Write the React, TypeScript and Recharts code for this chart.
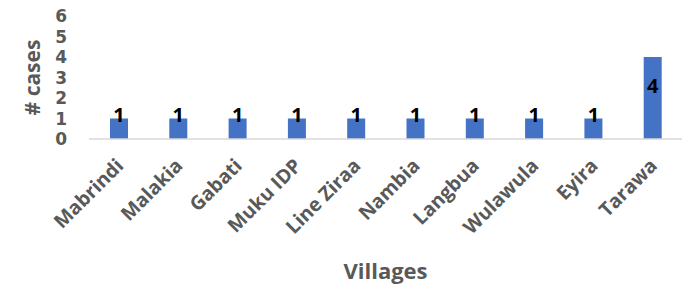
import React from 'react';
import { BarChart, Bar, XAxis, YAxis, LabelList, Label } from 'recharts';

const villages = ['Mabrindi', 'Malakia', 'Gabati', 'Muku IDP', 'Line Ziraa', 'Nambia', 'Langbua', 'Wulawula', 'Eyira', 'Tarawa'];
const cases = [1, 1, 1, 1, 1, 1, 1, 1, 1, 4];
const yTicks = [0, 1, 2, 3, 4, 5, 6];

const data = villages.map((v, i) => ({ village: v, cases: cases[i] }));

const FONT = '"Open Sans", sans-serif';
const GRAY = '#595959';

const XTick = (props: any) => {
  const { x, y, payload } = props;
  const tx = x + 6;
  const ty = y + 28;
  return (
    <text
      x={tx}
      y={ty}
      textAnchor="end"
      transform={`rotate(-45 ${tx} ${ty})`}
      fill={GRAY}
      fontFamily={FONT}
      fontWeight={700}
      fontSize={19.5}
    >
      {payload.value}
    </text>
  );
};

const BarLabel = (props: any) => {
  const { x, y, width, height, value } = props;
  const cx = x + width / 2;
  const cy = height > 30 ? y + 28 : y - 4;
  return (
    <text
      x={cx}
      y={cy}
      textAnchor="middle"
      dominantBaseline="central"
      fill="#000000"
      fontFamily={FONT}
      fontWeight={700}
      fontSize={20}
    >
      {value}
    </text>
  );
};

const YTitle = (props: any) => {
  const { viewBox } = props;
  const cx = viewBox.x + 32;
  const cy = viewBox.y + viewBox.height / 2;
  return (
    <text
      x={cx}
      y={cy}
      textAnchor="middle"
      dominantBaseline="central"
      transform={`rotate(-90 ${cx} ${cy})`}
      fill={GRAY}
      fontFamily={FONT}
      fontWeight={700}
      fontSize={21}
    >
      # cases
    </text>
  );
};

const XTitle = (props: any) => {
  const { viewBox } = props;
  const cx = viewBox.x + viewBox.width / 2;
  const cy = viewBox.y + 131;
  return (
    <text
      x={cx}
      y={cy}
      textAnchor="middle"
      dominantBaseline="central"
      fill={GRAY}
      fontFamily={FONT}
      fontWeight={700}
      fontSize={22}
    >
      Villages
    </text>
  );
};

export default function App() {
  return (
    <div style={{ position: 'absolute', left: 0, top: 0, width: 682, height: 286, background: '#fff' }}>
      <BarChart width={682} height={286} data={data} margin={{ top: 16, right: 0, left: 0, bottom: 0 }}>
        <XAxis
          dataKey="village"
          interval={0}
          height={147}
          tickLine={false}
          tickSize={0}
          tickMargin={0}
          axisLine={{ stroke: '#D9D9D9', strokeWidth: 1.5 }}
          tick={<XTick />}
        >
          <Label content={<XTitle />} />
        </XAxis>
        <YAxis
          width={89}
          domain={[0, 6]}
          ticks={yTicks}
          interval={0}
          axisLine={false}
          tickLine={false}
          tickMargin={16}
          tick={{ fill: GRAY, fontFamily: '"DejaVu Sans", sans-serif', fontWeight: 700, fontSize: 17 }}
        >
          <Label content={<YTitle />} />
        </YAxis>
        <Bar dataKey="cases" fill="#4472C4" barSize={18} isAnimationActive={false}>
          <LabelList dataKey="cases" content={<BarLabel />} />
        </Bar>
      </BarChart>
    </div>
  );
}
